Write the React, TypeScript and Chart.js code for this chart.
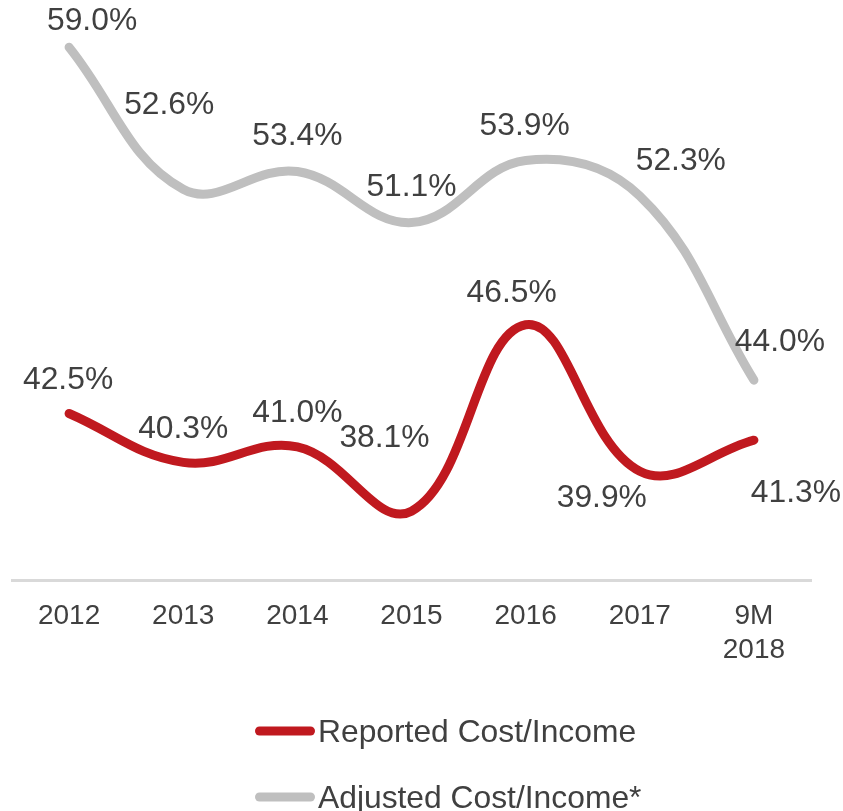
import React, { useEffect, useRef } from "react";
import { Chart, registerables } from "chart.js";

Chart.register(...registerables);

// ---- data ----
const categories: (string | string[])[] = ["2012", "2013", "2014", "2015", "2016", "2017", ["9M", "2018"]];
const reportedValues = [42.5, 40.3, 41.0, 38.1, 46.5, 39.9, 41.3];
const adjustedValues = [59.0, 52.6, 53.4, 51.1, 53.9, 52.3, 44.0];
const seriesNames = ["Reported Cost/Income", "Adjusted Cost/Income*"];

// ---- styling ----
const seriesColors = ["#C0191F", "#BFBFBF"];
const textColor = "#404040";
const fontFamily = '"Liberation Sans", Arial, Helvetica, sans-serif';
// label placement relative to each point (dx, dy in px)
const reportedLabelOffsets = [[-1, -36], [0, -36], [0, -36], [-27, -76], [-14, -34], [-38, 24], [42, 50]];
const adjustedLabelOffsets = [[23, -29], [-14, -87], [0, -38], [0, -38], [-1, -37], [41, -37], [26, -41]];

const labelPlugin = {
  id: "pointLabels",
  afterDatasetsDraw(chart: any) {
    const ctx = chart.ctx;
    const size = 31.8;
    ctx.save();
    ctx.font = `${size}px ${fontFamily}`;
    ctx.fillStyle = textColor;
    ctx.textAlign = "center";
    ctx.textBaseline = "alphabetic";
    chart.data.datasets.forEach((ds: any, di: number) => {
      const meta = chart.getDatasetMeta(di);
      const offs = ds.labelOffsets || [];
      meta.data.forEach((pt: any, i: number) => {
        const o = offs[i] || [0, -30];
        const v = ds.data[i];
        ctx.fillText(`${v.toFixed(1)}%`, pt.x + o[0], pt.y + o[1] + size * 0.716 / 2);
      });
    });
    ctx.restore();
  },
};

const legendPlugin = {
  id: "customLegend",
  afterDraw(chart: any) {
    const ctx = chart.ctx;
    const size = 31.8;
    const left = 255;
    const firstY = 731;
    const rowGap = 66;
    ctx.save();
    ctx.font = `${size}px ${fontFamily}`;
    ctx.textAlign = "left";
    ctx.textBaseline = "alphabetic";
    chart.data.datasets.forEach((ds: any, i: number) => {
      const y = firstY + i * rowGap;
      ctx.strokeStyle = ds.borderColor;
      ctx.lineWidth = 9;
      ctx.lineCap = "round";
      ctx.beginPath();
      ctx.moveTo(left + 4.5, y);
      ctx.lineTo(left + 60 - 4.5, y);
      ctx.stroke();
      ctx.fillStyle = textColor;
      ctx.fillText(ds.label, left + 63, y + size * 0.716 / 2);
    });
    ctx.restore();
  },
};

export default function App() {
  const canvasRef = useRef<HTMLCanvasElement | null>(null);

  useEffect(() => {
    if (!canvasRef.current) return;
    const chart = new Chart(canvasRef.current, {
      type: "line",
      data: {
        labels: categories as any,
        datasets: [
          {
            label: seriesNames[0],
            data: reportedValues,
            borderColor: seriesColors[0],
            backgroundColor: seriesColors[0],
            borderWidth: 9,
            borderCapStyle: "round",
            borderJoinStyle: "round",
            pointRadius: 0,
            tension: 0.4,
            fill: false,
            labelOffsets: reportedLabelOffsets,
          } as any,
          {
            label: seriesNames[1],
            data: adjustedValues,
            borderColor: seriesColors[1],
            backgroundColor: seriesColors[1],
            borderWidth: 9,
            borderCapStyle: "round",
            borderJoinStyle: "round",
            pointRadius: 0,
            tension: 0.4,
            fill: false,
            labelOffsets: adjustedLabelOffsets,
          } as any,
        ],
      },
      options: {
        animation: false,
        responsive: true,
        maintainAspectRatio: false,
        layout: { padding: { left: 12, right: 32, top: 25, bottom: 0 } },
        plugins: {
          legend: { display: false },
          tooltip: { enabled: false },
        },
        scales: {
          x: {
            offset: true,
            grid: { display: false },
            border: { display: true, color: "#D9D9D9", width: 3 },
            ticks: {
              color: textColor,
              font: { size: 28, family: fontFamily, lineHeight: 1.215 },
              padding: 11,
              maxRotation: 0,
              autoSkip: false,
            },
            afterFit: (scale: any) => {
              scale.height = 231;
            },
          },
          y: {
            display: false,
            min: 35,
            max: 60,
          },
        },
      },
      plugins: [labelPlugin, legendPlugin],
    });
    return () => chart.destroy();
  }, []);

  return (
    <div style={{ position: "absolute", left: 0, top: 0, width: 843, height: 811, background: "#ffffff" }}>
      <canvas ref={canvasRef} />
    </div>
  );
}
